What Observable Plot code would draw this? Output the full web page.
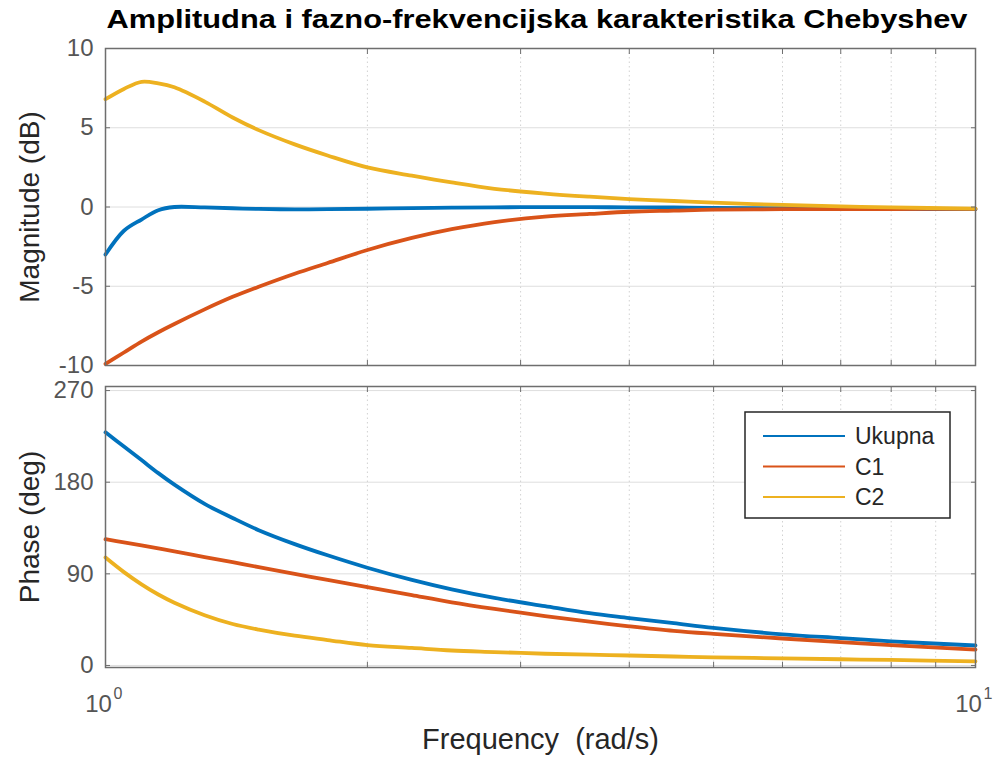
<!DOCTYPE html>
<html><head><meta charset="utf-8">
<script src="https://cdn.jsdelivr.net/npm/d3@7"></script>
<script src="https://cdn.jsdelivr.net/npm/@observablehq/plot@0.6"></script>
<style>
body{margin:0;background:#fff;}
#wrap{position:relative;width:998px;height:758px;overflow:hidden;background:#fff;font-family:"Liberation Sans",Arial,sans-serif;}
#title{position:absolute;left:0;top:0;}
#top{position:absolute;left:0;top:40px;}
#bot{position:absolute;left:0;top:376px;}
#legend{position:absolute;left:744px;top:411px;}
</style></head><body>
<div id="wrap">
<svg id="title" width="998" height="40"></svg>
<div id="top"></div>
<div id="bot"></div>
<svg id="legend" width="208" height="109"></svg>
</div>
<script>
// ---- data ----
const titleText = "Amplitudna i fazno-frekvencijska karakteristika Chebyshev";
const magLabel = "Magnitude (dB)";
const phaseLabel = "Phase (deg)";
const freqLabel = "Frequency \u00A0(rad/s)";
const series = ["Ukupna", "C1", "C2"];
const colors = ["#0072BD", "#D95319", "#EDB120"];
const freq = [1, 1.05, 1.1, 1.15, 1.2, 1.3, 1.4, 1.5, 1.65, 1.8, 2, 2.25, 2.5, 2.8, 3.2, 3.6, 4, 4.5, 5, 6, 7, 8, 10];
const magUkupna = [-3.0, -1.5, -0.79, -0.2, 0.0, -0.03, -0.08, -0.12, -0.15, -0.14, -0.11, -0.07, -0.04, -0.02, -0.01, -0.01, -0.02, -0.03, -0.05, -0.08, -0.1, -0.12, -0.14];
const magC1 = [-9.9, -9.18, -8.49, -7.9, -7.38, -6.46, -5.67, -5.03, -4.21, -3.53, -2.71, -1.95, -1.4, -0.95, -0.61, -0.44, -0.3, -0.23, -0.17, -0.14, -0.13, -0.125, -0.12];
const magC2 = [6.8, 7.45, 7.9, 7.8, 7.55, 6.65, 5.65, 4.85, 3.95, 3.25, 2.5, 1.98, 1.55, 1.15, 0.85, 0.65, 0.5, 0.38, 0.27, 0.13, 0.04, -0.03, -0.1];
const phaseUkupna = [229, 215, 201.7, 188.9, 177.6, 158.7, 144.9, 132.9, 119.2, 108.2, 96, 84, 74.7, 66.3, 58.2, 51.3, 46.6, 41.5, 36.9, 30.6, 26.9, 23.7, 19.6];
const phaseC1 = [124, 121, 118, 115, 112, 106.5, 101.5, 96.5, 90, 84, 77, 69, 62, 55.5, 48.5, 43, 38.5, 34, 31, 26.5, 23, 20, 15.5];
const phaseC2 = [106, 91.7, 79.7, 69.7, 61.6, 49.3, 40.7, 35.2, 29.2, 25, 20, 17.2, 14.7, 13.2, 11.5, 10.6, 9.8, 8.8, 8, 7, 6.1, 5.4, 4.1];
const magTicks = [-10, -5, 0, 5, 10];
const phaseTicks = [0, 90, 180, 270];
const majorX = [1, 10];
const majorXBase = "10";
const minorX = [2, 3, 4, 5, 6, 7, 8, 9];

const mags = [magUkupna, magC1, magC2];
const phases = [phaseUkupna, phaseC1, phaseC2];
const rows = series.flatMap((s, i) => freq.map((f, j) => ({f, s, mag: mags[i][j], ph: phases[i][j]})));

const FONT = "Liberation Sans, Arial, sans-serif";
const frameColor = "#6e6e6e";
const tickColor = "#555";

function panel({yKey, yDomain, yTicks, yLabel, height, marginTop, marginBottom, bottom}) {
  const marks = [
    Plot.gridY(yTicks, {stroke: "#dedede", strokeOpacity: 1}),
    Plot.gridX(minorX, {stroke: "#d2d2d2", strokeOpacity: 1, strokeDasharray: "1.5,3"}),
    Plot.line(rows, {x: "f", y: yKey, stroke: "s", strokeWidth: 3.8, curve: "catmull-rom"}),
    Plot.frame({stroke: frameColor, strokeWidth: 1.5}),
    Plot.axisX(minorX, {anchor: "bottom", tickSize: -5, tickFormat: () => "", label: null, stroke: frameColor}),
    Plot.axisX(minorX, {anchor: "top", tickSize: -5, tickFormat: () => "", label: null, stroke: frameColor}),
    Plot.axisY(yTicks, {anchor: "right", tickSize: -5, tickFormat: () => "", label: null, stroke: frameColor}),
    Plot.axisY(yTicks, {anchor: "left", tickSize: -5, tickFormat: () => "", label: null, stroke: frameColor}),
    Plot.axisY(yTicks, {anchor: "left", tickSize: 0, tickPadding: 12, fontSize: 24, fill: tickColor, label: null, tickFormat: d => String(d)}),
    Plot.text([yLabel], {frameAnchor: "left", dx: -75, rotate: -90, textAnchor: "middle", lineAnchor: "middle", fontSize: 28, fill: "#262626", text: d => d})
  ];
  if (bottom) {
    marks.push(Plot.text(majorX, {x: d => d, frameAnchor: "bottom", text: () => majorXBase, textAnchor: "middle", lineAnchor: "middle",
      dx: -7, dy: 37, fontSize: 24, fill: tickColor}));
    marks.push(Plot.text(majorX, {x: d => d, frameAnchor: "bottom", text: d => String(Math.round(Math.log10(d))), textAnchor: "start", lineAnchor: "middle",
      dx: 8, dy: 26, fontSize: 16, fill: tickColor}));
    marks.push(Plot.text([freqLabel], {frameAnchor: "bottom", dy: 72, textAnchor: "middle", lineAnchor: "middle", fontSize: 29, fill: "#262626", text: d => d}));
  }
  return Plot.plot({
    width: 998, height, marginLeft: 105, marginRight: 23, marginTop, marginBottom,
    style: {fontFamily: FONT, background: "transparent", overflow: "visible"},
    x: {type: "log", domain: [1, 10]},
    y: {domain: yDomain},
    color: {domain: series, range: colors},
    marks
  });
}

document.getElementById("top").appendChild(panel({
  yKey: "mag", yDomain: [-10, 10], yTicks: magTicks, yLabel: magLabel,
  height: 335, marginTop: 8, marginBottom: 10, bottom: false
}));
document.getElementById("bot").appendChild(panel({
  yKey: "ph", yDomain: [-2, 274], yTicks: phaseTicks, yLabel: phaseLabel,
  height: 382, marginTop: 10, marginBottom: 91, bottom: true
}));

// title
d3.select("#title").append("text")
  .attr("x", 537).attr("y", 28).attr("text-anchor", "middle")
  .attr("font-family", FONT).attr("font-weight", "bold").attr("font-size", 26)
  .attr("textLength", 861).attr("lengthAdjust", "spacingAndGlyphs")
  .attr("fill", "#000").text(titleText);

// legend
const leg = d3.select("#legend");
leg.append("rect").attr("x", 1).attr("y", 1).attr("width", 205).attr("height", 106)
  .attr("fill", "#fff").attr("stroke", "#262626").attr("stroke-width", 1.5);
series.forEach((s, i) => {
  const y = 25 + i * 30.5;
  leg.append("line").attr("x1", 19).attr("x2", 101).attr("y1", y).attr("y2", y)
    .attr("stroke", colors[i]).attr("stroke-width", 2);
  leg.append("text").attr("x", 111).attr("y", y).attr("dy", "0.35em")
    .attr("font-family", FONT).attr("font-size", 23).attr("fill", "#262626").text(s);
});
</script>
</body></html>
